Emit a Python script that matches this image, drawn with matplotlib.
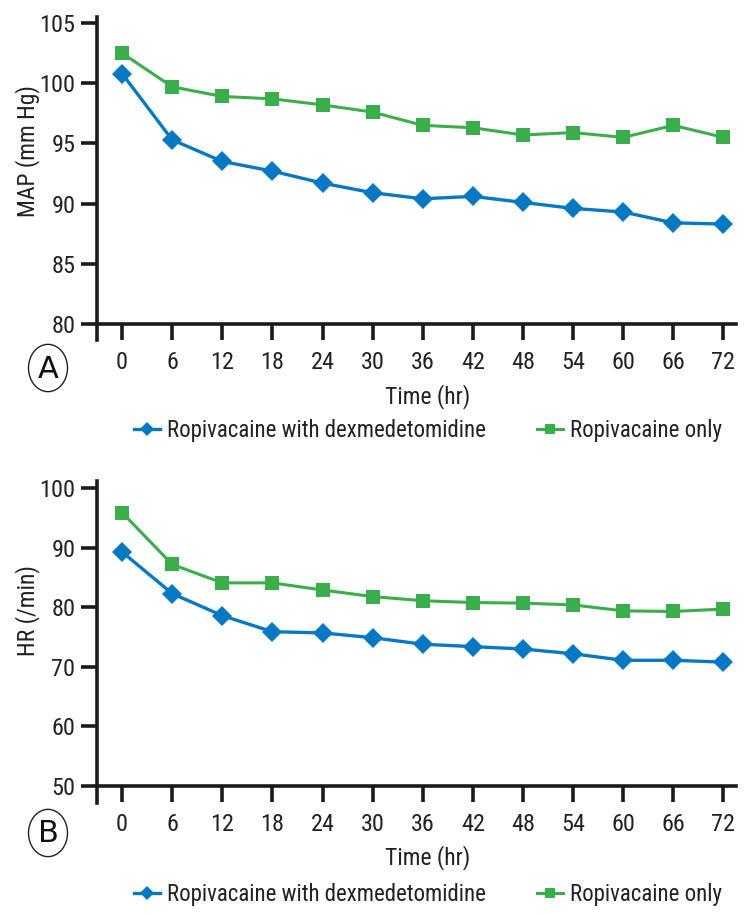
import numpy as np
import matplotlib
matplotlib.use("Agg")
import matplotlib.pyplot as plt
from matplotlib import font_manager as fm
from matplotlib.patches import Circle

# condensed face if the machine has one, otherwise a plain sans at a smaller size
names = set(f.name for f in fm.fontManager.ttflist)
font, fs = 'Liberation Sans', 14
for cand in ['Roboto Condensed', 'Liberation Sans Narrow', 'Open Sans Condensed', 'PT Sans Narrow']:
    if cand in names:
        font, fs = cand, 17.5
        break
plt.rcParams['font.family'] = [font, 'DejaVu Sans']

time_hr = [0, 6, 12, 18, 24, 30, 36, 42, 48, 54, 60, 66, 72]
# MAP (mm Hg)
map_dex = [100.8, 95.3, 93.5, 92.7, 91.7, 90.9, 90.4, 90.6, 90.1, 89.6, 89.3, 88.4, 88.3]
map_ropi = [102.5, 99.7, 98.9, 98.7, 98.2, 97.6, 96.5, 96.3, 95.7, 95.9, 95.5, 96.5, 95.5]
# HR (/min)
hr_dex = [89.3, 82.3, 78.6, 75.9, 75.7, 74.9, 73.8, 73.4, 73.0, 72.2, 71.1, 71.1, 70.8]
hr_ropi = [95.9, 87.2, 84.1, 84.1, 82.9, 81.8, 81.1, 80.8, 80.7, 80.4, 79.4, 79.3, 79.7]

labels = ['Ropivacaine with dexmedetomidine', 'Ropivacaine only']
blue = '#0678c4'
green = '#3aae4a'

W, H = 754, 914
fig = plt.figure(figsize=(W / 100, H / 100), dpi=100)

def px_axes(left, top, right, bottom):
    return fig.add_axes([left / W, 1 - bottom / H, (right - left) / W, (bottom - top) / H])

def panel(ax, d1, d2, ylo, yhi, ymin, yticks, ylabel, ylabel_y, xlab_y, legend_y, letter, letter_y):
    ax.set_xlim(-3, 73.5)
    ax.set_ylim(ymin, yhi)
    ax.spines['bottom'].set_position(('data', ylo))
    for s in ['top', 'right']:
        ax.spines[s].set_visible(False)
    for s in ['left', 'bottom']:
        ax.spines[s].set_linewidth(2.6)
        ax.spines[s].set_color('#1a1a1a')
    ax.set_xticks(time_hr)
    ax.set_yticks(yticks)
    ax.tick_params(axis='both', direction='out', length=11.5, width=2.6, color='#1a1a1a',
                   labelsize=fs, labelcolor='#222222')
    ax.tick_params(axis='x', pad=8)
    ax.tick_params(axis='y', pad=4)
    l1, = ax.plot(time_hr, d1, color=blue, lw=2.4, marker='D', ms=10, mew=0)
    l2, = ax.plot(time_hr, d2, color=green, lw=2.2, marker='s', ms=10.5, mew=0)
    fig.text(28 / W, 1 - ylabel_y / H, ylabel, rotation=90, ha='center', va='center',
             fontsize=fs - 0.5, color='#222222')
    fig.text(428 / W, 1 - xlab_y / H, 'Time (hr)', ha='center', va='center',
             fontsize=fs - 0.5, color='#222222')
    fig.legend(handles=[l1, l2], labels=labels, loc='center',
               bbox_to_anchor=(428 / W, 1 - legend_y / H), ncol=2, frameon=False,
               fontsize=fs - 1, handlelength=1.15, handletextpad=0.3, columnspacing=2.2,
               markerscale=0.75, labelcolor='#222222')
    fig.add_artist(Circle((48 / W, 1 - letter_y / H), 19.5 / W, transform=fig.transFigure,
                          fill=False, lw=1.0, ec='#222222'))
    fig.text(48 / W, 1 - (letter_y + 1) / H, letter, ha='center', va='center',
             fontsize=22, family='DejaVu Sans', color='#111111')

ax1 = px_axes(97, 17, 736, 340)
panel(ax1, map_dex, map_ropi, 80, 105.5, 78.67, [80, 85, 90, 95, 100, 105],
      'MAP (mm Hg)', 151, 397, 431, 'A', 368)

ax2 = px_axes(97, 481, 736, 803)
panel(ax2, hr_dex, hr_ropi, 50, 101.2, 47.15, [50, 60, 70, 80, 90, 100],
      'HR (/min)', 611, 858, 895, 'B', 833)

fig.savefig('out.png', dpi=100)
